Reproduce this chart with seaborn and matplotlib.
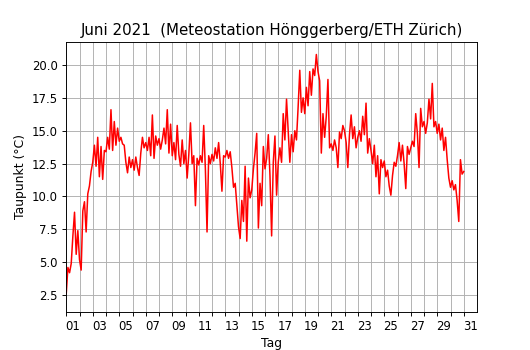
import numpy as np
import pandas as pd
import matplotlib
matplotlib.use("Agg")
import matplotlib.pyplot as plt
import seaborn as sns

# Taupunkt in °C, 3-Stunden-Werte ab 1. Juni 00:00
week1 = [2.6, 4.6, 4.2, 4.9, 7.0, 8.8, 5.6, 7.4,
         5.2, 4.4, 8.9, 9.6, 7.3, 10.2, 10.8, 11.9,
         12.6, 13.9, 12.3, 14.5, 11.5, 13.8, 11.3, 13.5,
         13.4, 14.5, 13.6, 16.6, 13.5, 15.7, 13.9, 15.2,
         14.2, 14.5, 14.0, 13.9, 12.6, 11.8, 13.0, 12.2,
         12.8, 12.0, 13.0, 12.2, 11.6, 13.3, 14.5, 13.7,
         14.1, 13.5, 14.5, 13.1, 16.2, 12.9, 14.6, 13.9]
week2 = [14.4, 13.6, 14.3, 15.2, 14.0, 16.6, 13.3, 15.5,
         13.1, 14.1, 12.8, 15.4, 13.2, 12.3, 14.3, 12.5,
         13.5, 11.4, 13.2, 15.6, 12.5, 13.1, 9.3, 12.9,
         12.4, 13.1, 12.6, 15.4, 12.1, 7.3, 13.1, 12.5,
         13.2, 12.7, 13.7, 12.9, 14.1, 12.5, 10.4, 13.1,
         13.0, 13.5, 12.9, 13.4, 12.2, 10.7, 11.0, 9.4,
         7.7, 6.8, 9.7, 8.1, 12.3, 6.6, 11.4, 9.9]
week3 = [10.5, 12.1, 13.3, 14.8, 7.6, 11.0, 9.3, 13.8,
         12.1, 12.9, 14.7, 11.6, 7.0, 12.6, 14.6, 10.1,
         12.6, 13.7, 12.6, 16.3, 14.3, 17.4, 15.0, 12.6,
         14.7, 13.4, 15.0, 14.3, 16.8, 19.6, 16.4, 17.5,
         16.3, 18.3, 16.9, 19.5, 17.7, 19.7, 19.2, 20.8,
         19.5, 18.8, 13.3, 16.3, 14.5, 16.1, 18.9, 13.7,
         14.0, 13.5, 14.3, 13.7, 12.2, 14.9, 14.4, 15.4]
week4 = [15.0, 14.1, 12.2, 14.7, 16.2, 14.4, 15.3, 13.7,
         14.5, 15.0, 14.2, 16.1, 14.7, 17.1, 13.3, 14.4,
         13.5, 12.5, 13.9, 11.5, 13.1, 10.2, 12.8, 12.2,
         12.7, 11.5, 12.0, 10.8, 10.1, 11.6, 12.6, 12.3,
         13.1, 14.1, 12.7, 13.9, 12.5, 10.6, 13.8, 13.2,
         13.7, 14.2, 13.8, 16.3, 14.8, 12.2, 16.7, 15.3,
         15.7, 14.8, 15.6, 17.4, 15.9, 18.6, 15.3, 15.7]
week5 = [14.8, 15.5, 14.3, 15.2, 13.5, 14.5, 12.8, 11.4,
         10.7, 11.2, 10.5, 10.9, 9.7, 8.1, 12.8, 11.7,
         11.9]

day_labels = ["%02d" % d for d in range(1, 32, 2)]
title = "Juni 2021  (Meteostation Hönggerberg/ETH Zürich)"

dew = week1 + week2 + week3 + week4 + week5
df = pd.DataFrame({"tag": 1 + np.arange(len(dew)) * 3 / 24, "taupunkt": dew})

fig, ax = plt.subplots(figsize=(530 / 84, 350 / 84), dpi=84)
fig.subplots_adjust(left=0.125, right=0.9, bottom=0.11, top=0.88)

sns.lineplot(data=df, x="tag", y="taupunkt", color="red", linewidth=1.3, ax=ax)

ax.set_xlim(1, 32)
ax.set_ylim(1.25, 21.75)
ax.set_xticks(range(1, 32))
ax.set_xticklabels([])
ax.set_xticks(np.arange(1.5, 32, 2), minor=True)
ax.set_xticklabels(day_labels, minor=True)
ax.tick_params(axis="x", which="minor", length=0, pad=7)
ax.set_yticks(np.arange(2.5, 20.1, 2.5))
ax.grid(True, color="#b0b0b0", linewidth=0.8)

ax.set_title(title, fontsize=12.9)
ax.set_xlabel("Tag", fontsize=10.6)
ax.set_ylabel("Taupunkt (°C)", fontsize=10.6)

fig.savefig("out.png", dpi=84)
